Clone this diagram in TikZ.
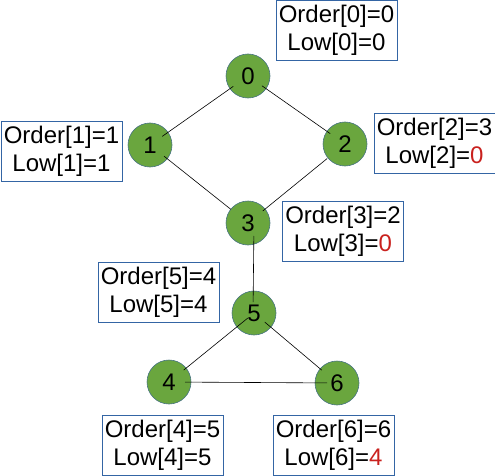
\documentclass[tikz,border=0pt]{standalone}
\usepackage{fontspec}
\setmainfont{Liberation Sans}
\definecolor{vgreen}{RGB}{106,166,62}
\definecolor{vborder}{RGB}{70,115,130}
\definecolor{bblue}{RGB}{52,101,164}
\definecolor{lred}{RGB}{201,33,30}
\begin{document}
\begin{tikzpicture}[x=1pt,y=-1pt,
  vertex/.style={circle, fill=vgreen, draw=vborder, line width=0.6pt, minimum size=44pt, inner sep=0pt, font=\fontsize{24}{28}\selectfont},
  info/.style={draw=bblue, line width=0.8pt, minimum width=121pt, minimum height=60pt, align=center, inner sep=0pt, font=\fontsize{24}{28}\selectfont},
  edge/.style={line width=0.6pt, black}]
\useasboundingbox (0,0) rectangle (495,476);
% vertices
\node[vertex] (n0) at (248,76) {0};
\node[vertex] (n1) at (150,145) {1};
\node[vertex] (n2) at (345,144) {2};
\node[vertex] (n3) at (248,223) {3};
\node[vertex] (n5) at (254,313) {5};
\node[vertex] (n4) at (169,382) {4};
\node[vertex] (n6) at (337,383) {6};
% info boxes
\node[info] (b0) at (336.5,30.5) {Order[0]=0\\Low[0]=0};
\node[info] (b1) at (61.5,151) {Order[1]=1\\Low[1]=1};
\node[info] (b2) at (434.5,143) {Order[2]=3\\Low[2]=\textcolor{lred}{0}};
\node[info] (b3) at (343,231.5) {Order[3]=2\\Low[3]=\textcolor{lred}{0}};
\node[info] (b5) at (158.5,292) {Order[5]=4\\Low[5]=4};
\node[info] (b4) at (162.5,445) {Order[4]=5\\Low[4]=5};
\node[info] (b6) at (333.5,445) {Order[6]=6\\Low[6]=\textcolor{lred}{4}};
% edges
\draw[edge, shorten <=18pt, shorten >=15pt] (n0.center) -- (n1.center);
\draw[edge, shorten <=17pt, shorten >=18pt] (n0.center) -- (n2.center);
\draw[edge, shorten <=18pt, shorten >=22pt] (n1.center) -- (n3.center);
\draw[edge, shorten <=23pt, shorten >=19pt] (n2.center) -- (n3.center);
\draw[edge, shorten <=13pt, shorten >=11pt] ([xshift=6pt]n3.center) -- ([xshift=-1pt]n5.center);
\draw[edge, shorten <=8pt, shorten >=19pt] (n5.center) -- (n4.center);
\draw[edge, shorten <=14pt, shorten >=20pt] (n5.center) -- (n6.center);
\draw[edge, shorten <=16pt, shorten >=10pt] (n4.center) -- (n6.center);
\end{tikzpicture}
\end{document}
